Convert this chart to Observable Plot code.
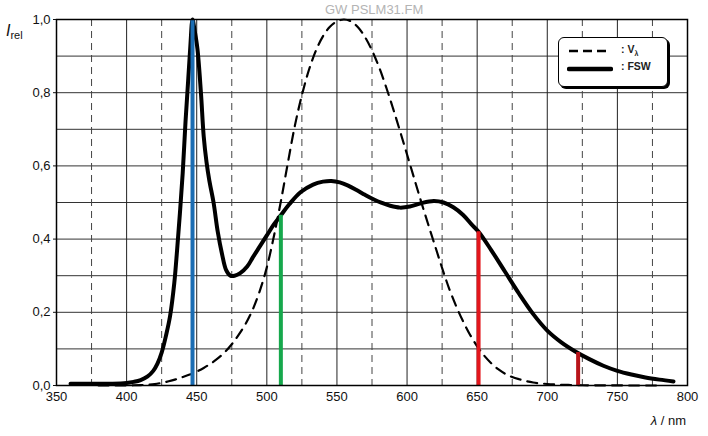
<!DOCTYPE html>
<html>
<head>
<meta charset="utf-8">
<script src="https://cdn.jsdelivr.net/npm/d3@7"></script>
<script src="https://cdn.jsdelivr.net/npm/@observablehq/plot@0.6"></script>
<style>
  body { margin: 0; background: #fff; font-family: "Liberation Sans", Arial, sans-serif; }
  #wrap { position: relative; width: 708px; height: 436px; }
  .ov { position: absolute; white-space: nowrap; }
</style>
</head>
<body>
<div id="wrap"></div>
<script>
// ---- data ----
const fswWl  = [360,370,380,390,400,405,410,415,419,422,425,428,431,434,436,438,440,442,444,445.5,447,448.5,450.5,453,455,457,459,462,465,468,471,474,477,481,486,490,495,500,505,510,516,524,533,540,546,552,558,564,570,576,582,588,595,602,610,619,626,633,640,646,651,660,670,680,690,700,710,720,730,740,750,760,770,780,790];
const fswVal = [0.005,0.005,0.005,0.005,0.007,0.01,0.015,0.025,0.04,0.06,0.09,0.135,0.19,0.28,0.37,0.47,0.58,0.72,0.84,0.93,1.0,0.97,0.92,0.80,0.68,0.61,0.56,0.50,0.42,0.36,0.315,0.30,0.30,0.307,0.325,0.35,0.38,0.41,0.44,0.465,0.495,0.528,0.549,0.557,0.559,0.555,0.546,0.534,0.521,0.509,0.499,0.491,0.486,0.489,0.498,0.504,0.5,0.487,0.466,0.44,0.42,0.37,0.31,0.25,0.195,0.15,0.118,0.093,0.072,0.054,0.04,0.03,0.022,0.016,0.011];
const vWl  = [380,385,390,395,400,405,410,415,420,425,430,435,440,445,450,455,460,465,470,475,480,485,490,495,500,505,510,515,520,525,530,535,540,545,550,555,560,565,570,575,580,585,590,595,600,605,610,615,620,625,630,635,640,645,650,655,660,665,670,675,680,685,690,695,700,705,710,715,720,725,730,735,740,745,750,755,760,765,770,775,780];
const vVal = [0.000039,0.000064,0.00012,0.000217,0.000396,0.00064,0.00121,0.00218,0.004,0.0073,0.0116,0.01684,0.023,0.0298,0.038,0.048,0.06,0.0739,0.09098,0.1126,0.13902,0.1693,0.20802,0.2586,0.323,0.4073,0.503,0.6082,0.71,0.7932,0.862,0.91485,0.954,0.9803,0.99495,1.0,0.995,0.9786,0.952,0.9154,0.87,0.8163,0.757,0.6949,0.631,0.5668,0.503,0.4412,0.381,0.321,0.265,0.217,0.175,0.1382,0.107,0.0816,0.061,0.04458,0.032,0.0232,0.017,0.01192,0.00821,0.005723,0.004102,0.002929,0.002091,0.001484,0.001047,0.00074,0.00052,0.000361,0.000249,0.000172,0.00012,0.000085,0.00006,0.000042,0.00003,0.000021,0.000015];
const markerWl    = [447, 510, 651, 722];
const markerVal   = [1.0, 0.465, 0.42, 0.09];
const markerColor = ["#1b6db3", "#16a84c", "#e3161c", "#b8141a"];
const xTicks = [350,400,450,500,550,600,650,700,750,800];
const yTicks = [0,0.2,0.4,0.6,0.8,1.0];
const yGrid  = [0.1,0.2,0.3,0.4,0.5,0.6,0.7,0.8,0.9];
const xGridSolid  = [400,450,500,550,600,650,700,750];
const xGridDashed = [375,425,475,525,575,625,675,725,775];

// ---- tables ----
const fsw = fswWl.map((w,i) => ({w, v: fswVal[i]}));
const vl  = vWl.map((w,i) => ({w, v: vVal[i]}));
const markers = markerWl.map((w,i) => ({w, v: markerVal[i], c: markerColor[i]}));
const fmt = d => d.toFixed(1).replace(".", ",");

const chart = Plot.plot({
  width: 708, height: 436,
  marginLeft: 56, marginRight: 21, marginTop: 19, marginBottom: 51,
  style: { fontFamily: "Liberation Sans, Arial, sans-serif", fontSize: "13px", color: "#111", background: "#fff" },
  x: { domain: [350, 800] },
  y: { domain: [0, 1] },
  marks: [
    Plot.ruleY(yGrid, { stroke: "#333", strokeWidth: 1 }),
    Plot.ruleX(xGridSolid, { stroke: "#222", strokeWidth: 1 }),
    Plot.ruleX(xGridDashed, { stroke: "#444", strokeWidth: 1, strokeDasharray: "7,5" }),
    Plot.line(vl, { x: "w", y: "v", stroke: "#000", strokeWidth: 2.2, strokeDasharray: "10,7", curve: "catmull-rom" }),
    Plot.line(fsw, { x: "w", y: "v", stroke: "#000", strokeWidth: 4, curve: "catmull-rom" }),
    Plot.ruleX(markers, { x: "w", y1: 0, y2: "v", stroke: "c", strokeWidth: 4 }),
    Plot.frame({ stroke: "#000", strokeWidth: 1.5 }),
    Plot.axisX(xTicks, { tickSize: 0, tickPadding: 6, label: null, fontSize: 13, tickFormat: d => String(d) }),
    Plot.axisY(yTicks, { tickSize: 3, tickPadding: 3, label: null, fontSize: 13, tickFormat: fmt })
  ]
});

const wrap = document.getElementById("wrap");
wrap.appendChild(chart);

function ov(html, css) {
  const d = document.createElement("div");
  d.className = "ov";
  d.innerHTML = html;
  Object.assign(d.style, css);
  wrap.appendChild(d);
}
ov("GW PSLM31.FM", { left: "325px", top: "2px", fontSize: "13px", color: "#b4b4b4" });
ov('<i style="font-size:16px">I</i><span style="font-size:11px;position:relative;top:3px">rel</span>', { left: "6px", top: "22px", color: "#111" });
ov('<i>λ</i> / nm', { right: "22px", top: "413px", fontSize: "13px", color: "#111" });
ov(`<svg width="46" height="32" style="position:absolute;left:8px;top:4px">
      <line x1="2" y1="9" x2="44" y2="9" stroke="#000" stroke-width="2.5" stroke-dasharray="9,5"/>
      <line x1="2" y1="27" x2="44" y2="27" stroke="#000" stroke-width="4.5" stroke-linecap="round"/>
    </svg>
    <div style="position:absolute;left:62px;top:5px;font-size:10.5px;font-weight:bold;color:#222">: V<sub style="font-size:7px">λ</sub></div>
    <div style="position:absolute;left:62px;top:22px;font-size:10.5px;font-weight:bold;color:#222">: FSW</div>`,
   { left: "558px", top: "37px", width: "108px", height: "48px", border: "1.5px solid #000", borderRadius: "6px",
     background: "#fff", boxShadow: "2px 2px 0 #000" });
</script>
</body>
</html>
